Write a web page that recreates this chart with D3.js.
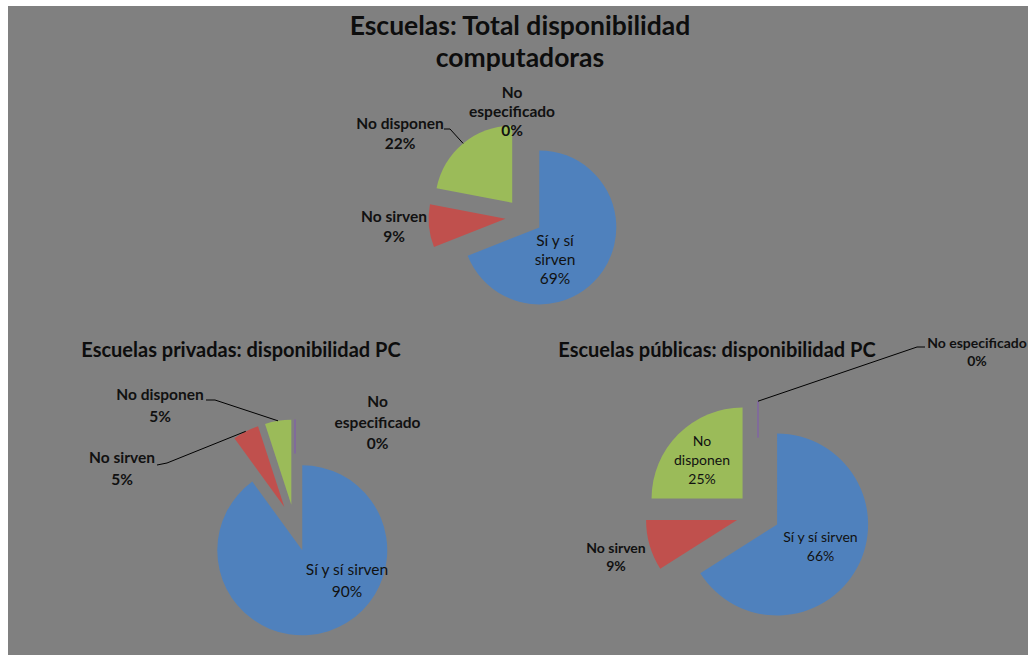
<!DOCTYPE html>
<html>
<head>
<meta charset="utf-8">
<script src="https://cdn.jsdelivr.net/npm/d3@7"></script>
<style>
  body { margin: 0; background: #fff; }
  svg { display: block; font-family: Lato, "Open Sans", sans-serif; }
</style>
</head>
<body>
<div id="container"></div>
<script>
/* DATA */
const categories = ["Sí y sí sirven", "No sirven", "No disponen", "No especificado"]
const totalValues = [69, 9, 22, 0]
const privadasValues = [90, 5, 5, 0]
const publicasValues = [66, 9, 25, 0]

const colors = ["#4f81bd", "#c0504d", "#9bbb59", "#8064a2"]

/* CONSTANTS AND GLOBALS */
const width = 1028,
  height = 655

const svg = d3.select("#container")
  .append("svg")
  .attr("width", width)
  .attr("height", height)

// gray chart area
svg.append("rect")
  .attr("x", 8).attr("y", 6)
  .attr("width", width - 8).attr("height", height - 6)
  .attr("fill", "#808080")

// layout per chart: center, radius, explode distance, label spots relative to center
const charts = [
  {
    values: totalValues, cx: 524, cy: 217, r: 77, explode: 18.5, fs: 15.5, showZero: false,
    title: ["Escuelas: Total disponibilidad", "computadoras"], tx: 520, ty: 35, tfs: 26.5, tlh: 32,
    labels: [
      { lines: ["Sí y sí", "sirven", "69%"], dx: 31, dy: 29, lh: 19, bold: false },
      { lines: ["No sirven", "9%"], dx: -130, dy: 5, lh: 19.5, bold: true },
      { lines: ["No disponen", "22%"], dx: -124, dy: -88, lh: 20, bold: true, leader: [[-80, -88], [-74, -88]] },
      { lines: ["No", "especificado", "0%"], dx: -12, dy: -119, lh: 19, bold: true }
    ]
  },
  {
    values: privadasValues, cx: 295, cy: 528, r: 85, explode: 23.5, fs: 15.5, showZero: true,
    title: ["Escuelas privadas: disponibilidad PC"], tx: 241, ty: 357, tfs: 20, tlh: 22,
    labels: [
      { lines: ["Sí y sí sirven", "90%"], dx: 52, dy: 47, lh: 21.5, bold: false },
      { lines: ["No sirven", "5%"], dx: -173, dy: -65, lh: 21.7, bold: true, leader: [[-138, -63], [-128, -65]] },
      { lines: ["No disponen", "5%"], dx: -135, dy: -128, lh: 21.5, bold: true, leader: [[-89, -128], [-80, -128]] },
      { lines: ["No", "especificado", "0%"], dx: 82.5, dy: -121, lh: 21, bold: true }
    ]
  },
  {
    values: publicasValues, cx: 758, cy: 514, r: 91, explode: 21.8, fs: 14, showZero: true,
    title: ["Escuelas públicas: disponibilidad PC"], tx: 717, ty: 357, tfs: 20, tlh: 22,
    labels: [
      { lines: ["Sí y sí sirven", "66%"], dx: 62.5, dy: 28, lh: 18.5, bold: false },
      { lines: ["No sirven", "9%"], dx: -142, dy: 39, lh: 18, bold: true },
      { lines: ["No", "disponen", "25%"], dx: -56, dy: -68, lh: 19, bold: false },
      { lines: ["No especificado", "0%"], dx: 219, dy: -166, lh: 18, bold: true, leader: [[167, -167], [159, -167]] }
    ]
  }
]

// PIE GENERATOR
const pie = d3.pie().sort(null).value(d => d.value)

charts.forEach(c => {
  const data = categories.map((name, i) => ({ name: name, value: c.values[i], color: colors[i] }))
  const all = pie(data)
  const arcs = all.filter(d => d.value > 0 || c.showZero)

  const g = svg.append("g")
    .attr("transform", `translate(${c.cx},${c.cy})`)

  const arcGen = d3.arc().innerRadius(0).outerRadius(c.r)
  const zeroArc = d3.arc().innerRadius(c.r * 0.6).outerRadius(c.r)

  const offset = d => {
    const mid = (d.startAngle + d.endAngle) / 2
    return [c.explode * Math.sin(mid), -c.explode * Math.cos(mid)]
  }

  g.selectAll(".slice")
    .data(arcs)
    .join("path")
    .attr("class", "slice")
    .attr("transform", d => `translate(${offset(d)})`)
    .attr("d", d => d.value === 0 ? zeroArc(d) : arcGen(d))
    .attr("fill", d => d.data.color)
    .attr("stroke", d => d.value === 0 ? d.data.color : "none")
    .attr("stroke-width", 1)

  // titles
  c.title.forEach((t, i) => {
    svg.append("text")
      .attr("x", c.tx)
      .attr("y", c.ty + i * c.tlh)
      .attr("text-anchor", "middle")
      .attr("font-size", c.tfs)
      .attr("font-weight", "bold")
      .attr("fill", "#0d0d0d")
      .text(t)
  })

  // labels
  c.labels.forEach((lab, i) => {
    const t = g.append("text")
      .attr("text-anchor", "middle")
      .attr("font-size", c.fs)
      .attr("font-weight", lab.bold ? "bold" : "normal")
      .attr("fill", "#111")
    lab.lines.forEach((line, j) => {
      t.append("tspan")
        .attr("x", lab.dx)
        .attr("y", lab.dy + j * lab.lh)
        .text(line)
    })

    if (lab.leader) {
      const d = all[i]
      const mid = (d.startAngle + d.endAngle) / 2
      const reach = c.explode + c.r
      const pts = lab.leader.concat([[reach * Math.sin(mid), -reach * Math.cos(mid)]])
      g.append("path")
        .attr("d", d3.line()(pts))
        .attr("fill", "none")
        .attr("stroke", "#000")
        .attr("stroke-width", 1)
    }
  })
})
</script>
</body>
</html>
